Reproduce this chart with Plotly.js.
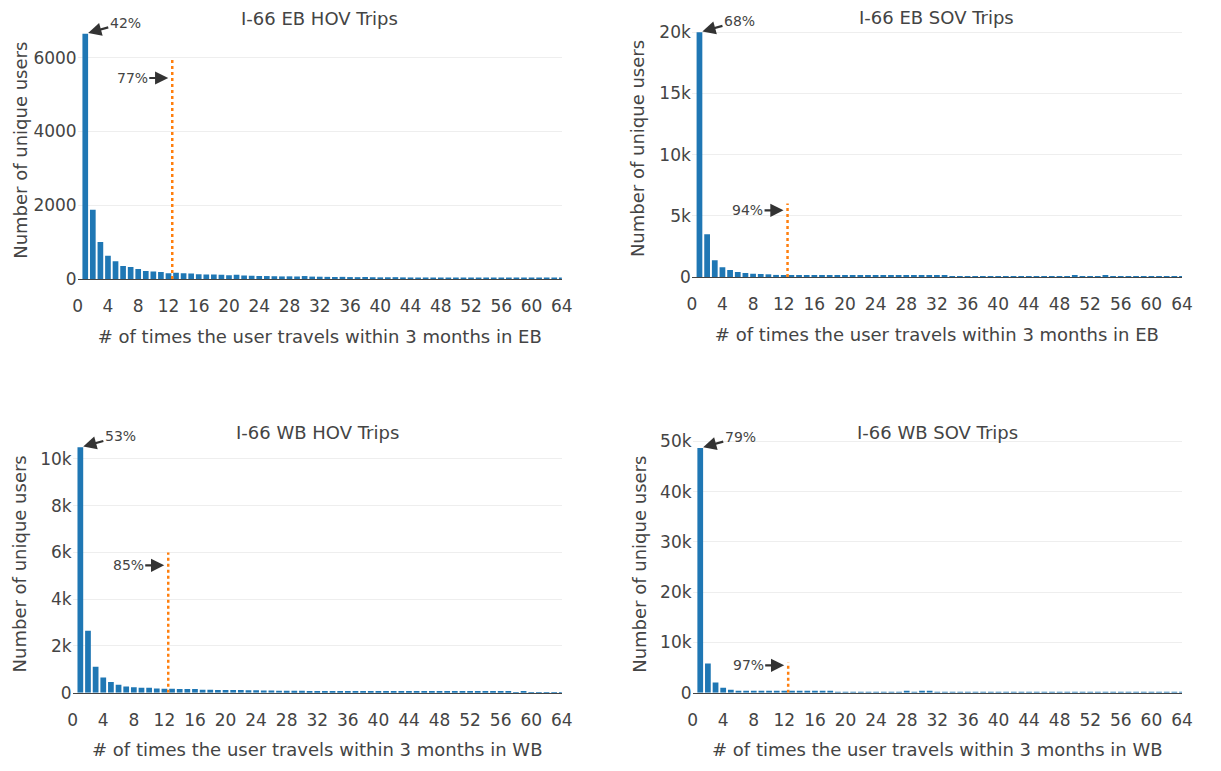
<!DOCTYPE html>
<html>
<head>
<meta charset="utf-8">
<script src="https://cdn.plot.ly/plotly-3.0.1.min.js"></script>
<style>
html,body{margin:0;padding:0;background:#fff;}
#chart{width:1221px;height:771px;}
</style>
</head>
<body>
<div id="chart"></div>
<script>
// number of trips per user (x categories 1..64)
const trips = Array.from({length: 64}, (_, i) => i + 1);

const panelTitles = ["I-66 EB HOV Trips", "I-66 EB SOV Trips", "I-66 WB HOV Trips", "I-66 WB SOV Trips"];
const xTitles = [
  "# of times the user travels within 3 months in EB",
  "# of times the user travels within 3 months in EB",
  "# of times the user travels within 3 months in WB",
  "# of times the user travels within 3 months in WB"
];
const yTitle = "Number of unique users";

// unique users per trip count
const ebHov = [6650,1880,1000,630,480,355,325,270,220,200,190,155,172,155,150,128,125,122,115,100,
  115,92,90,82,80,75,70,72,68,80,65,62,58,55,58,52,50,55,48,45,
  47,50,44,42,40,42,38,36,37,35,34,33,32,33,30,30,29,28,27,27,
  26,25,24,23];
const ebSov = [20000,3500,1370,790,570,410,330,270,245,220,170,165,130,125,120,118,115,112,110,108,
  105,103,100,98,96,95,93,92,90,88,86,85,84,82,80,79,78,76,75,74,
  72,70,69,68,66,65,62,20,22,110,18,20,18,100,15,14,15,12,13,12,
  10,8,8,6];
const wbHov = [10500,2650,1115,645,455,345,270,230,215,212,185,170,172,158,155,156,130,128,120,118,
  115,112,108,100,95,90,88,85,82,80,78,75,74,72,70,68,67,66,65,63,
  62,61,60,59,58,57,56,55,54,53,52,51,50,48,47,46,45,15,70,12,
  10,12,9,8];
const wbSov = [48700,5800,2050,1000,600,400,330,280,265,260,255,250,230,220,215,210,205,200,195,190,
  185,180,175,170,20,15,18,260,20,250,240,30,28,27,28,26,25,27,26,25,
  24,25,23,24,22,23,22,21,22,20,21,20,19,20,10,9,10,8,9,8,
  7,8,7,6];
const series = [ebHov, ebSov, wbHov, wbSov];

// share of users annotated at 1 trip and at the 12-trip cutoff
const shareAtOne = ["42%", "68%", "53%", "79%"];
const shareCutoff = ["77%", "94%", "85%", "97%"];
const cutoffX = 12.5;
const cutoffTop = 6000;
const cutoffArrowY = 5450;

// panel positions in pixels (plot areas)
const W = 1221, H = 771;
const boxes = [
  {x0: 77.7, x1: 561.8, top: 21.5, bottom: 279, ytStandoff: 1},
  {x0: 691.8, x1: 1182, top: 20, bottom: 277, ytStandoff: 10},
  {x0: 72.7, x1: 561.8, top: 435, bottom: 692.7, ytStandoff: 8},
  {x0: 692.6, x1: 1182, top: 435.7, bottom: 692.7, ytStandoff: 8}
];

const font = "DejaVu Sans, Verdana, sans-serif";
const textColor = "#444";
const data = [];
const layout = {
  width: W, height: H,
  margin: {l: 0, r: 0, t: 0, b: 0},
  paper_bgcolor: "#fff",
  plot_bgcolor: "#fff",
  showlegend: false,
  bargap: 0.25,
  font: {family: font, color: textColor, size: 17},
  annotations: [],
  shapes: []
};

series.forEach((vals, i) => {
  const n = i + 1;
  const xa = n === 1 ? "x" : "x" + n;
  const ya = n === 1 ? "y" : "y" + n;
  const xk = n === 1 ? "xaxis" : "xaxis" + n;
  const yk = n === 1 ? "yaxis" : "yaxis" + n;
  const b = boxes[i];
  const yMax = Math.max(...vals) * 1.05;
  data.push({
    type: "bar", x: trips, y: vals, xaxis: xa, yaxis: ya,
    marker: {color: "#1f77b4", line: {width: 0}},
    hoverinfo: "x+y"
  });
  layout[xk] = {
    domain: [b.x0 / W, b.x1 / W],
    anchor: ya,
    range: [0, 64],
    tick0: 0, dtick: 4,
    showgrid: false,
    zeroline: false,
    showline: true, linecolor: "#444", linewidth: 1,
    ticks: "outside", ticklen: 12, tickcolor: "rgba(0,0,0,0)",
    tickfont: {size: 17, color: textColor, family: font},
    title: {text: xTitles[i], font: {size: 18, color: textColor, family: font}, standoff: 14},
    automargin: false, fixedrange: true
  };
  layout[yk] = {
    domain: [1 - b.bottom / H, 1 - b.top / H],
    anchor: xa,
    range: [0, yMax],
    showgrid: true, gridcolor: "#eee",
    zeroline: false,
    showline: false,
    tickfont: {size: 17, color: textColor, family: font},
    title: {text: yTitle, font: {size: 18, color: textColor, family: font}, standoff: b.ytStandoff},
    automargin: false, fixedrange: true
  };
  if (n === 1) layout[yk].dtick = 2000;
  layout.annotations.push({
    text: panelTitles[i], xref: xa + " domain", yref: ya + " domain",
    x: 0.5, y: 1, yanchor: "middle", yshift: 3, showarrow: false,
    font: {size: 18, color: textColor, family: font}
  });
  layout.annotations.push({
    text: shareAtOne[i], xref: xa, yref: ya, x: 1, y: vals[0],
    ax: 40, ay: -11, showarrow: true, arrowhead: 2, arrowsize: 1.2, arrowwidth: 2.2,
    arrowcolor: "#333", standoff: 3,
    font: {size: 14, color: textColor, family: font}
  });
  layout.annotations.push({
    text: shareCutoff[i], xref: xa, yref: ya, x: cutoffX, y: cutoffArrowY,
    ax: -40, ay: 0, showarrow: true, arrowhead: 2, arrowsize: 1.2, arrowwidth: 2.2,
    arrowcolor: "#333", standoff: 4,
    font: {size: 14, color: textColor, family: font}
  });
  layout.shapes.push({
    type: "line", xref: xa, yref: ya, x0: cutoffX, x1: cutoffX, y0: 0, y1: cutoffTop,
    line: {color: "#ff7f0e", width: 2.5, dash: "dot"}
  });
});

Plotly.newPlot("chart", data, layout, {displayModeBar: false});
</script>
</body>
</html>
